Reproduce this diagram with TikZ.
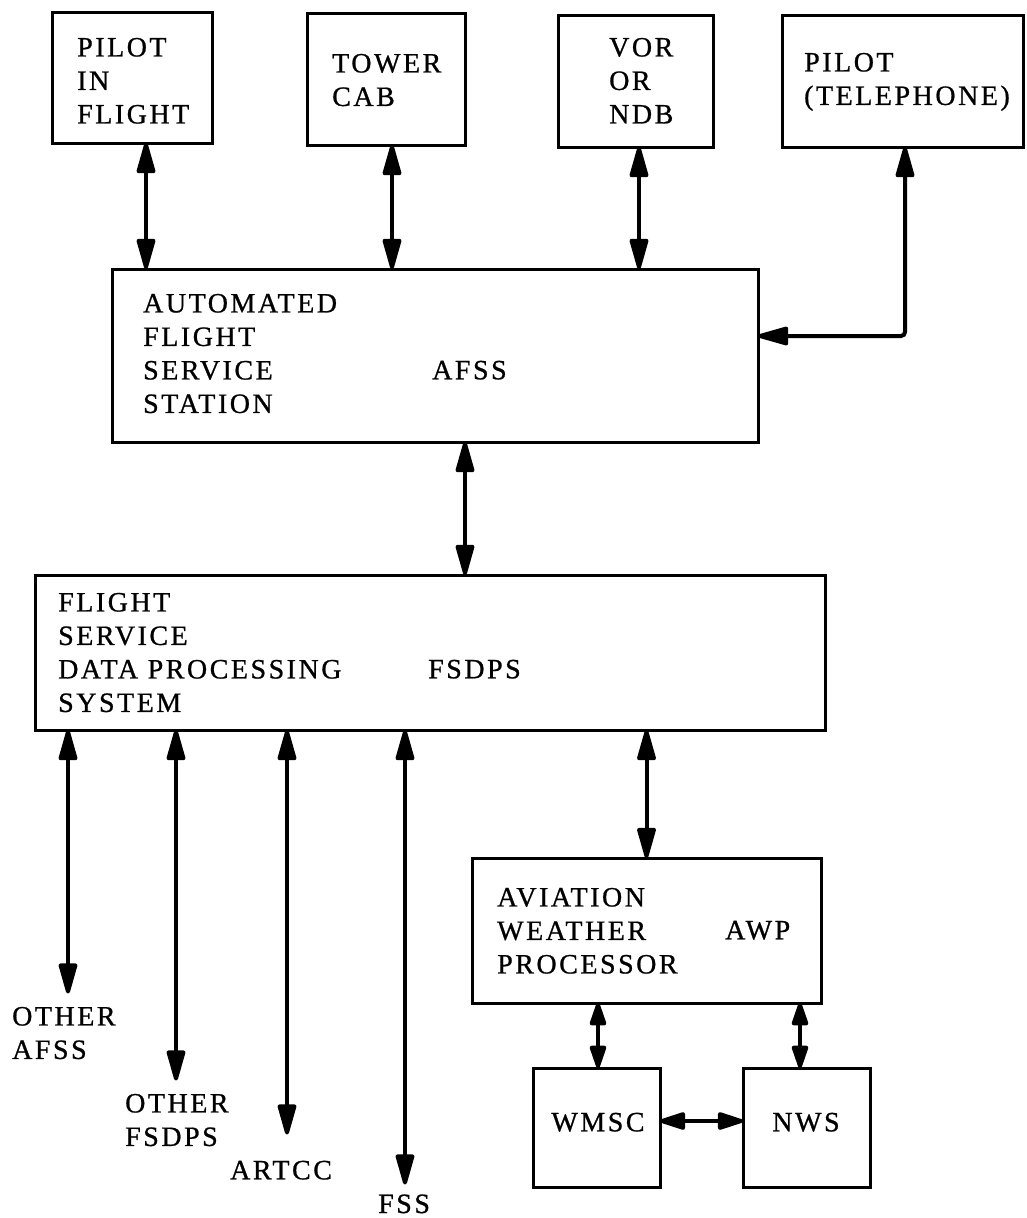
\documentclass[tikz,border=0pt]{standalone}
\usepackage{fontspec}
\setmainfont{Liberation Serif}[LetterSpace=9,FakeBold=0.8]
\usetikzlibrary{arrows.meta}
\begin{document}
\begin{tikzpicture}[x=1pt,y=-1pt,
  box/.style={draw, line width=3pt, inner sep=0pt},
  txt/.style={inner sep=0pt, align=left, anchor=north west, font=\fontsize{28}{33.5}\selectfont},
  lbl/.style={inner sep=0pt, anchor=base west, font=\fontsize{28}{33.5}\selectfont},
  dbl/.style={line width=4pt, shorten <=-1.5pt, shorten >=-1.5pt, {Triangle[length=36pt,width=19pt,round]}-{Triangle[length=36pt,width=19pt,round]}},
  dbls/.style={line width=4pt, shorten <=-1.5pt, shorten >=-1.5pt, {Triangle[length=27pt,width=17pt,round]}-{Triangle[length=27pt,width=17pt,round]}},
  dblh/.style={line width=4pt, shorten <=-1.5pt, shorten >=-1.5pt, {Triangle[length=30pt,width=18pt,round]}-{Triangle[length=30pt,width=18pt,round]}}]
\useasboundingbox (0,0) rectangle (1027,1218);
% boxes
\node[box, minimum width=160pt, minimum height=131pt] (pif) at (132,77.5) {};
\node[box, minimum width=158pt, minimum height=132pt] (tower) at (386,79) {};
\node[box, minimum width=155pt, minimum height=132pt] (vor) at (635.5,81) {};
\node[box, minimum width=241pt, minimum height=132pt] (tel) at (902.5,81) {};
\node[box, minimum width=646pt, minimum height=173pt] (afss) at (435,355.5) {};
\node[box, minimum width=790pt, minimum height=155pt] (fsdps) at (430,652.5) {};
\node[box, minimum width=349pt, minimum height=145pt] (awp) at (646.5,930.5) {};
\node[box, minimum width=127pt, minimum height=119pt] (wmsc) at (596.5,1127.5) {};
\node[box, minimum width=127pt, minimum height=119pt] (nws) at (806.5,1127.5) {};
% texts
\node[txt] (tpif) at (77,37.7) {PILOT\\IN\\FLIGHT};
\node[txt] (ttower) at (332,53.7) {TOWER\\CAB};
\node[txt] (tvor) at (609,37.7) {VOR\\OR\\NDB};
\node[txt] (ttel) at (804,52.7) {PILOT\\(TELEPHONE)};
\node[txt] (tafss) at (143,293.7) {AUTOMATED\\FLIGHT\\SERVICE\\STATION};
\node[lbl] (lafss) at (432,379.3) {AFSS};
\node[txt] (tfsdps) at (58,592.7) {FLIGHT\\SERVICE\\DATA PROCESSING\\SYSTEM};
\node[lbl] (lfsdps) at (428,678.3) {FSDPS};
\node[txt] (tawp) at (497,887.7) {AVIATION\\WEATHER\\PROCESSOR};
\node[lbl] (lawp) at (725,939.3) {AWP};
\node[lbl, anchor=base] (twmsc) at (598,1131.3) {WMSC};
\node[lbl, anchor=base] (tnws) at (806,1131.3) {NWS};
% free ends
\coordinate (e1) at (68,992);
\coordinate (e2) at (176,1079);
\coordinate (e3) at (287,1133);
\coordinate (e4) at (405,1183);
\node[txt] (l1) at (12,1006.7) {OTHER\\AFSS};
\node[txt] (l2) at (125,1093.7) {OTHER\\FSDPS};
\node[lbl] (l3) at (230,1179.3) {ARTCC};
\node[lbl] (l4) at (378,1213) {FSS};
% connectors
\draw[dbl] ([xshift=14pt]pif.south) -- ([xshift=14pt]pif.south |- afss.north);
\draw[dbl] ([xshift=6pt]tower.south) -- ([xshift=6pt]tower.south |- afss.north);
\draw[dbl] ([xshift=3.5pt]vor.south) -- ([xshift=3.5pt]vor.south |- afss.north);
\draw[dbl, rounded corners=4pt] ([xshift=2.5pt]tel.south) |- ([yshift=19.5pt]afss.east);
\draw[dbl] ([xshift=30pt]afss.south) -- ([xshift=30pt]afss.south |- fsdps.north);
\draw[dbl] (awp.north |- fsdps.south) -- (awp.north);
\draw[dbls] ([xshift=1.5pt]wmsc.north |- awp.south) -- ([xshift=1.5pt]wmsc.north);
\draw[dbls] ([xshift=-6.5pt]nws.north |- awp.south) -- ([xshift=-6.5pt]nws.north);
\draw[dblh] ([yshift=6.5pt]wmsc.east) -- ([yshift=6.5pt]nws.west);
\draw[dbl] (fsdps.south -| e1) -- (e1);
\draw[dbl] (fsdps.south -| e2) -- (e2);
\draw[dbl] (fsdps.south -| e3) -- (e3);
\draw[dbl] (fsdps.south -| e4) -- (e4);
\end{tikzpicture}
\end{document}
